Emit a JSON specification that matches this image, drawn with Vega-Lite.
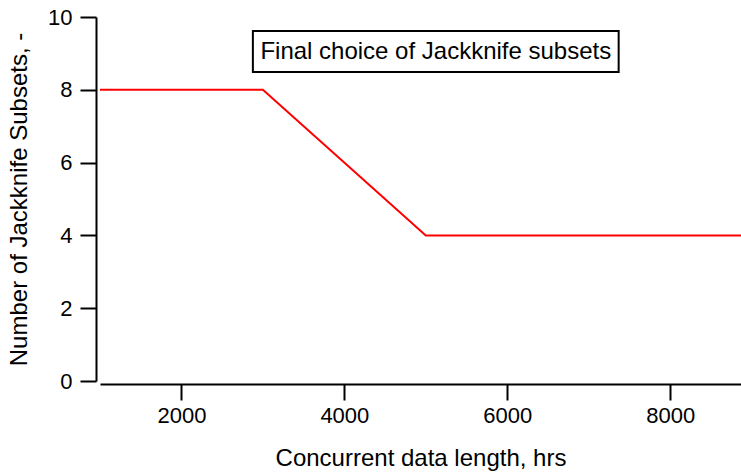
{
  "$schema": "https://vega.github.io/schema/vega-lite/v6.json",
  "width": 641,
  "height": 364,
  "autosize": {"type": "none"},
  "padding": {"left": 100, "top": 17, "right": 0, "bottom": 92},
  "background": "white",
  "config": {
    "view": {"stroke": null},
    "font": "Liberation Sans",
    "axis": {
      "grid": false,
      "domainColor": "black",
      "domainWidth": 2,
      "tickColor": "black",
      "tickWidth": 2,
      "labelColor": "black",
      "titleColor": "black",
      "labelFont": "Liberation Sans",
      "titleFont": "Liberation Sans",
      "labelFontSize": 22,
      "titleFontSize": 24,
      "titleFontWeight": "normal"
    }
  },
  "datasets": {
    "subsets": [
      {"hours": 1000, "n": 8},
      {"hours": 3000, "n": 8},
      {"hours": 5000, "n": 4},
      {"hours": 8870, "n": 4}
    ],
    "note": [
      {"x0": 2877, "x1": 7368, "y0": 8.49, "y1": 9.615, "xm": 5123, "ym": 9.05, "label": "Final choice of Jackknife subsets"}
    ]
  },
  "layer": [
    {
      "data": {"name": "subsets"},
      "mark": {"type": "line", "color": "#ff0000", "strokeWidth": 2, "clip": true},
      "encoding": {
        "x": {
          "field": "hours",
          "type": "quantitative",
          "scale": {"domain": [1000, 8870], "nice": false, "zero": false},
          "axis": {
            "title": "Concurrent data length, hrs",
            "values": [2000, 4000, 6000, 8000],
            "format": "d",
            "offset": 3,
            "tickSize": 16,
            "labelPadding": 5,
            "titlePadding": 20
          }
        },
        "y": {
          "field": "n",
          "type": "quantitative",
          "scale": {"domain": [0, 10], "nice": false},
          "axis": {
            "title": "Number of Jackknife Subsets, -",
            "values": [0, 2, 4, 6, 8, 10],
            "offset": 4,
            "tickSize": 16,
            "labelPadding": 8,
            "titlePadding": 16
          }
        }
      }
    },
    {
      "data": {"name": "note"},
      "mark": {"type": "rect", "fill": "white", "stroke": "black", "strokeWidth": 2},
      "encoding": {
        "x": {"field": "x0", "type": "quantitative"},
        "x2": {"field": "x1"},
        "y": {"field": "y0", "type": "quantitative"},
        "y2": {"field": "y1"}
      }
    },
    {
      "data": {"name": "note"},
      "mark": {"type": "text", "fontSize": 24, "font": "Liberation Sans", "color": "black", "align": "center", "baseline": "middle"},
      "encoding": {
        "x": {"field": "xm", "type": "quantitative"},
        "y": {"field": "ym", "type": "quantitative"},
        "text": {"field": "label"}
      }
    }
  ]
}
